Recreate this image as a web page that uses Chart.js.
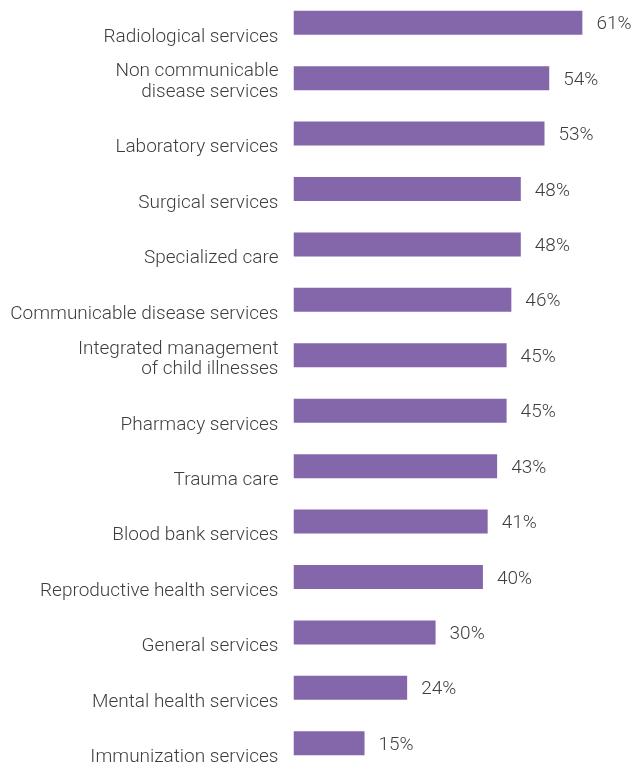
<!DOCTYPE html>
<html lang="en">
<head>
    <meta charset="UTF-8">
    <title>Services</title>
    <script src="https://cdn.jsdelivr.net/npm/chart.js"></script>
    <style>
        html, body {
            margin: 0;
            padding: 0;
            background: #ffffff;
            overflow: hidden;
        }
        .chart-box {
            position: absolute;
            left: 0;
            top: -8px;
            width: 643px;
            height: 780px;
        }
    </style>
</head>
<body>
    <div class="chart-box">
        <canvas id="servicesChart"></canvas>
    </div>

    <script>
        // Single-line labels get an empty first line so they sit low like the wrapped ones
        const categories = [
            ['', 'Radiological services'],
            ['Non communicable', 'disease services'],
            ['', 'Laboratory services'],
            ['', 'Surgical services'],
            ['', 'Specialized care'],
            ['', 'Communicable disease services'],
            ['Integrated management', 'of child illnesses'],
            ['', 'Pharmacy services'],
            ['', 'Trauma care'],
            ['', 'Blood bank services'],
            ['', 'Reproductive health services'],
            ['', 'General services'],
            ['', 'Mental health services'],
            ['', 'Immunization services']
        ];
        const percentages = [61, 54, 53, 48, 48, 46, 45, 45, 43, 41, 40, 30, 24, 15];

        const barColor = '#8466aa';
        const textColor = '#3d3d3d';
        const fontFamily = '"Roboto Light", Roboto, "Noto Sans", sans-serif';

        // Writes the percentage just past the end of every bar
        const valueLabels = {
            id: 'valueLabels',
            afterDatasetsDraw(chart) {
                const ctx = chart.ctx;
                const meta = chart.getDatasetMeta(0);
                ctx.save();
                ctx.font = '300 19px ' + fontFamily;
                ctx.fillStyle = textColor;
                ctx.textAlign = 'left';
                ctx.textBaseline = 'middle';
                meta.data.forEach((bar, i) => {
                    ctx.fillText(percentages[i] + '%', bar.x + 14, bar.y + 1);
                });
                ctx.restore();
            }
        };

        new Chart(document.getElementById('servicesChart'), {
            type: 'bar',
            data: {
                labels: categories,
                datasets: [{
                    data: percentages,
                    backgroundColor: barColor,
                    borderWidth: 0,
                    categoryPercentage: 1,
                    barPercentage: 0.433
                }]
            },
            options: {
                indexAxis: 'y',
                responsive: true,
                maintainAspectRatio: false,
                animation: false,
                layout: { padding: { top: 3, bottom: 1, right: 18, left: 0 } },
                plugins: {
                    legend: { display: false },
                    tooltip: { enabled: false }
                },
                scales: {
                    x: {
                        display: false,
                        min: 0,
                        max: 70
                    },
                    y: {
                        afterFit(scale) {
                            scale.width = 293.5;
                            scale.paddingTop = 0;
                            scale.paddingBottom = 0;
                        },
                        grid: { display: false, drawTicks: false },
                        border: { display: false },
                        ticks: {
                            color: textColor,
                            padding: 15,
                            labelOffset: 3,
                            font: { family: fontFamily, size: 19, weight: '300', lineHeight: 1.08 }
                        }
                    }
                }
            },
            plugins: [valueLabels]
        });
    </script>
</body>
</html>
